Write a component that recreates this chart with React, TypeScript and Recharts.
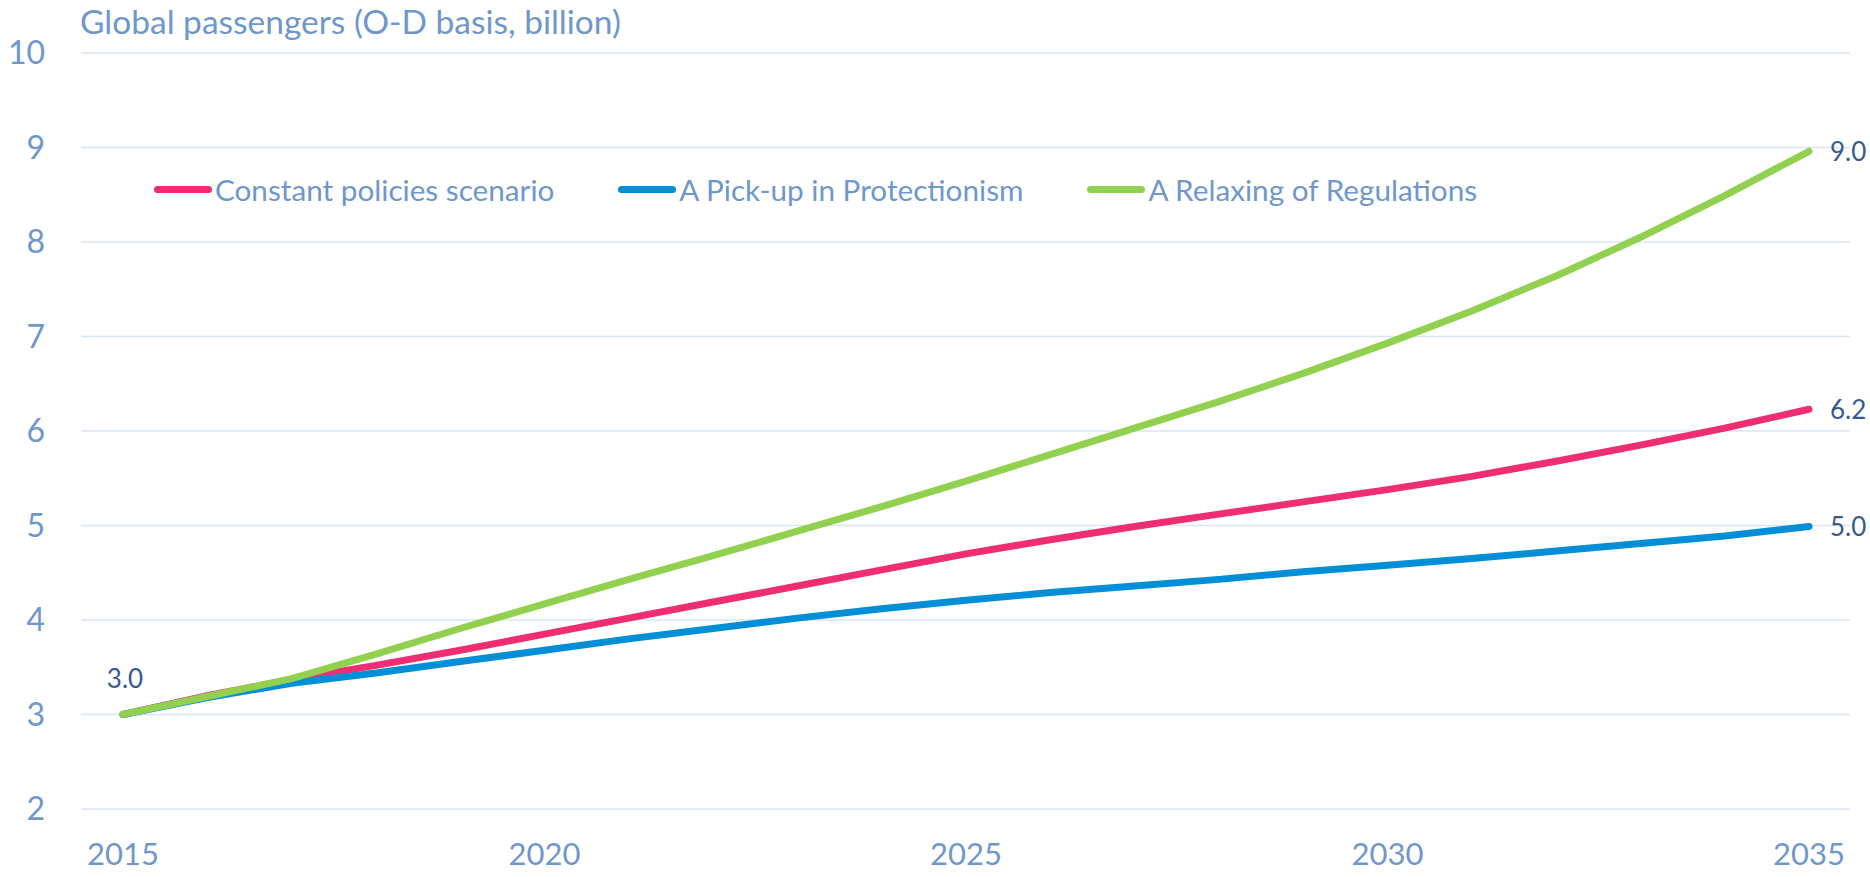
import React from 'react';
import { LineChart, Line, XAxis, YAxis, CartesianGrid, Legend } from 'recharts';

const years = [2015, 2016, 2017, 2018, 2019, 2020, 2021, 2022, 2023, 2024, 2025, 2026, 2027, 2028, 2029, 2030, 2031, 2032, 2033, 2034, 2035];
const constantPolicies = [3.0, 3.2, 3.37, 3.52, 3.68, 3.85, 4.02, 4.19, 4.36, 4.53, 4.7, 4.85, 4.99, 5.12, 5.25, 5.38, 5.52, 5.68, 5.85, 6.03, 6.23];
const protectionism = [3.0, 3.18, 3.33, 3.44, 3.56, 3.68, 3.8, 3.91, 4.02, 4.12, 4.21, 4.29, 4.36, 4.43, 4.51, 4.58, 4.65, 4.73, 4.81, 4.89, 4.99];
const relaxing = [3.0, 3.19, 3.38, 3.64, 3.91, 4.17, 4.43, 4.68, 4.94, 5.2, 5.47, 5.75, 6.03, 6.31, 6.61, 6.93, 7.27, 7.64, 8.05, 8.49, 8.96];

const xTicks = [2015, 2020, 2025, 2030, 2035];
const yTicks = [2, 3, 4, 5, 6, 7, 8, 9, 10];

const seriesNames = ['Constant policies scenario', 'A Pick-up in Protectionism', 'A Relaxing of Regulations'];
const seriesColors = ['#EE2D72', '#008FD6', '#92D050'];

const title = 'Global passengers (O-D basis, billion)';

const data = years.map((y, i) => ({
  year: y,
  c: constantPolicies[i],
  p: protectionism[i],
  r: relaxing[i],
}));

const FONT = 'Lato, "Open Sans", sans-serif';
const AXIS_COLOR = '#7097CB';
const LABEL_COLOR = '#375A8C';
const last = years.length - 1;

const makeLabel = (showFirst: boolean) => (props: any) => {
  const { x, y, index, value } = props;
  if (index === last) {
    return (
      <text x={x + 21} y={y} dominantBaseline="central" fill={LABEL_COLOR} fontSize={26} fontFamily={FONT}>
        {Number(value).toFixed(1)}
      </text>
    );
  }
  if (index === 0 && showFirst) {
    return (
      <text x={x + 2} y={y - 37} dominantBaseline="central" textAnchor="middle" fill={LABEL_COLOR} fontSize={26} fontFamily={FONT}>
        {Number(value).toFixed(1)}
      </text>
    );
  }
  return null;
};

const LegendContent = () => (
  <div style={{ display: 'flex', alignItems: 'center', gap: 64, fontFamily: FONT, fontSize: 29.7, color: AXIS_COLOR, whiteSpace: 'nowrap' }}>
    {seriesNames.map((n, i) => (
      <div key={n} style={{ display: 'flex', alignItems: 'center' }}>
        <div style={{ width: 58, height: 7, borderRadius: 4, background: seriesColors[i], marginRight: 3 }} />
        <span>{n}</span>
      </div>
    ))}
  </div>
);

export default function App() {
  return (
    <div style={{ position: 'absolute', left: 0, top: 0, width: 1870, height: 877, background: '#fff' }}>
      <div style={{ position: 'absolute', left: 80, top: 0, fontFamily: FONT, fontSize: 33.5, color: AXIS_COLOR, whiteSpace: 'nowrap', lineHeight: '42px' }}>
        {title}
      </div>
      <LineChart width={1870} height={877} data={data} margin={{ top: 53, right: 20, left: 0, bottom: 8 }}>
        <CartesianGrid horizontal vertical={false} stroke="#DCE5F1" strokeWidth={1.6} />
        <XAxis
          dataKey="year"
          type="number"
          domain={[2015, 2035]}
          ticks={xTicks}
          padding={{ left: 42, right: 41 }}
          axisLine={false}
          tickLine={false}
          tickSize={0}
          tickMargin={34}
          height={60}
          tick={{ fill: AXIS_COLOR, fontSize: 31, fontFamily: FONT }}
        />
        <YAxis
          type="number"
          domain={[2, 10]}
          ticks={yTicks}
          width={81}
          axisLine={false}
          tickLine={false}
          tickSize={0}
          tickMargin={36}
          tick={{ fill: AXIS_COLOR, fontSize: 32, fontFamily: FONT }}
        />
        <Legend
          layout="horizontal"
          verticalAlign="middle"
          align="center"
          wrapperStyle={{ top: 172, left: 154, width: 'auto' }}
          content={LegendContent}
        />
        <Line dataKey="c" name={seriesNames[0]} stroke={seriesColors[0]} strokeWidth={7} strokeLinecap="round" dot={false} type="linear" isAnimationActive={false} label={makeLabel(false)} />
        <Line dataKey="p" name={seriesNames[1]} stroke={seriesColors[1]} strokeWidth={7} strokeLinecap="round" dot={false} type="linear" isAnimationActive={false} label={makeLabel(false)} />
        <Line dataKey="r" name={seriesNames[2]} stroke={seriesColors[2]} strokeWidth={7} strokeLinecap="round" dot={false} type="linear" isAnimationActive={false} label={makeLabel(true)} />
      </LineChart>
    </div>
  );
}
